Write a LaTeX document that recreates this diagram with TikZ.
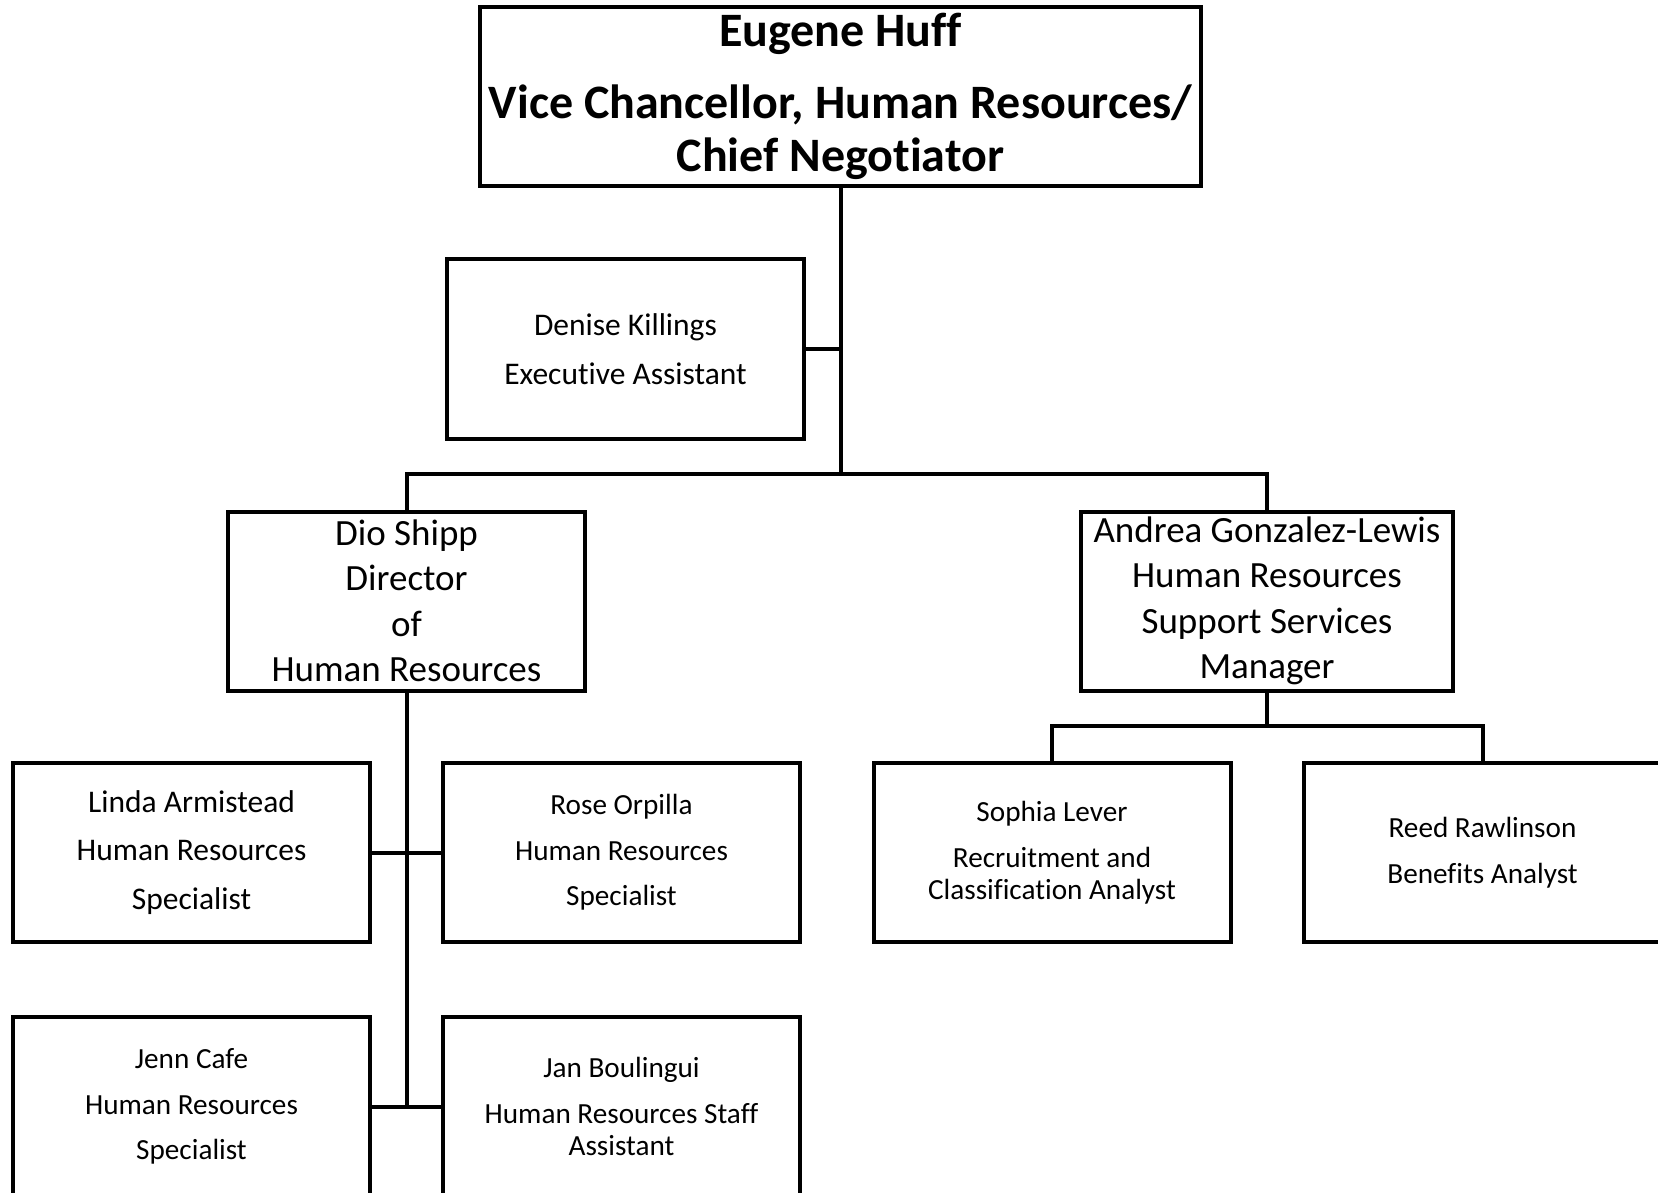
\documentclass[tikz,border=0pt]{standalone}
\usepackage{fontspec}
\setmainfont{Carlito}[Ligatures=NoCommon]
\begin{document}
\begin{tikzpicture}[x=1pt,y=-1pt,
  box/.style={draw=black, line width=4pt, align=center, inner sep=0pt,
    minimum width=357pt, minimum height=179pt},
  conn/.style={draw=black, line width=4pt},
  fbig/.style={font=\fontsize{37pt}{45.5pt}\selectfont},
  fmid/.style={font=\fontsize{31.5pt}{34pt}\selectfont},
  fsmall/.style={font=\fontsize{29.2pt}{32pt}\selectfont},
  ftop/.style={font=\bfseries\fontsize{48pt}{53pt}\selectfont}]
\useasboundingbox (0,0) rectangle (1658,1193);
\clip (0,0) rectangle (1658,1193);
% nodes
\node[box, ftop, minimum width=721pt] (top) at (840.5,96.5)
  {Eugene Huff\\[19pt]Vice Chancellor, Human Resources/\\Chief Negotiator};
\node[box, fmid] (denise) at (625.5,349)
  {Denise Killings\\[14.6pt]Executive Assistant};
\node[box, fbig] (dio) at (406.5,601)
  {Dio Shipp\\Director\\of\\Human Resources};
\node[box, fbig, minimum width=372pt] (andrea) at (1267,601)
  {Andrea Gonzalez-Lewis\\Human Resources\\Support Services\\Manager};
\node[box, fmid] (linda) at (191.5,852.5)
  {Linda Armistead\\[14.6pt]Human Resources\\[14.6pt]Specialist};
\node[box, fsmall] (rose) at (621.5,852.5)
  {Rose Orpilla\\[13.5pt]Human Resources\\[13.5pt]Specialist};
\node[box, fsmall] (sophia) at (1052,852.5)
  {Sophia Lever\\[13.5pt]Recruitment and\\Classification Analyst};
\node[box, fsmall] (reed) at (1482.5,852.5)
  {Reed Rawlinson\\[13.5pt]Benefits Analyst};
\node[box, fsmall] (jenn) at (191.5,1106.5)
  {Jenn Cafe\\[13.5pt]Human Resources\\[13.5pt]Specialist};
\node[box, fsmall] (jan) at (621.5,1106.5)
  {Jan Boulingui\\[13.5pt]Human Resources Staff\\Assistant};
% junctions
\coordinate (hub) at (840.5,474);
\coordinate (dbot) at (406.5,1106.5);
\coordinate (abus) at (1267,726);
% connectors
\draw[conn] (top.south) -- (hub);
\draw[conn] (denise.east) -- (denise.east -| hub);
\draw[conn] (dio.north) |- (hub) -| (andrea.north);
\draw[conn] (dio.south) -- (dbot);
\draw[conn] (linda.east) -- (rose.west);
\draw[conn] (jenn.east) -- (jan.west);
\draw[conn] (andrea.south) -- (abus);
\draw[conn] (sophia.north) |- (abus) -| (reed.north);
\end{tikzpicture}
\end{document}
